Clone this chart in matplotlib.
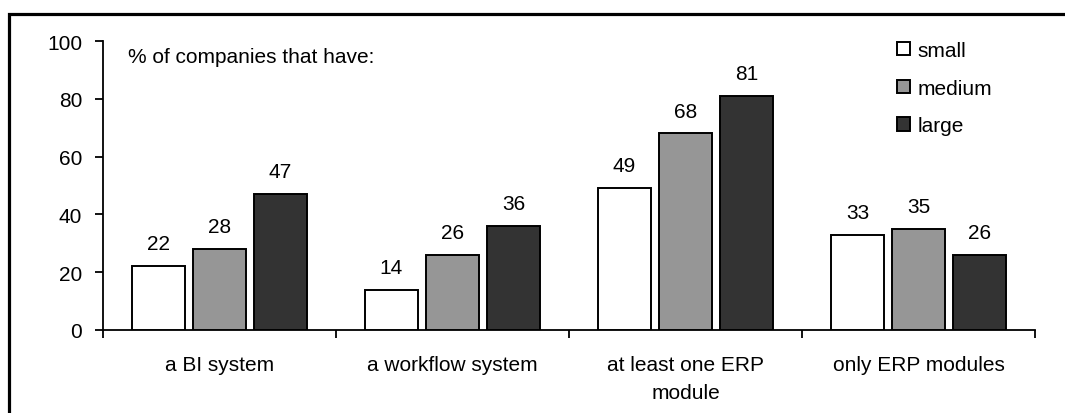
import matplotlib
matplotlib.use("Agg")
import matplotlib.pyplot as plt
from matplotlib.patches import Rectangle
import numpy as np

categories = ["a BI system", "a workflow system", "at least one ERP\nmodule", "only ERP modules"]
series_names = ["small", "medium", "large"]
small = [22, 14, 49, 33]
medium = [28, 26, 68, 35]
large = [47, 36, 81, 26]
y_ticks = [0, 20, 40, 60, 80, 100]
note_text = "% of companies that have:"

colors = ["#ffffff", "#969696", "#333333"]
plt.rcParams['font.family'] = ['Liberation Sans', 'DejaVu Sans']
FS = 15

W, H = 1065, 414
fig = plt.figure(figsize=(W / 100, H / 100), dpi=100)
fig.patch.set_facecolor("white")

# outer frame (partially cut off at right and bottom)
fig.patches.append(Rectangle((9 / W, -0.2), 1.5, (H - 15) / H + 0.2,
                             transform=fig.transFigure, fill=False,
                             edgecolor="black", linewidth=2.3))

ax = fig.add_axes([103 / W, (H - 331) / H, (1035 - 103) / W, (331 - 42) / H])
ax.set_facecolor("none")

x = np.arange(len(categories))
off = 0.262
bw = 0.228
handles = []
for i, (vals, name) in enumerate(zip([small, medium, large], series_names)):
    bars = ax.bar(x + (i - 1) * off, vals, width=bw, color=colors[i],
                  edgecolor="black", linewidth=1.4, label=name, zorder=3)
    handles.append(bars)
    for xi, v in zip(x + (i - 1) * off, vals):
        ax.annotate(str(v), (xi, v), xytext=(0, 12.2), textcoords="offset points",
                    ha="center", va="baseline", fontsize=FS, color="black")

ax.set_xlim(-0.5, len(categories) - 0.5)
ax.set_ylim(0, 100)
ax.set_yticks(y_ticks)
ax.set_yticklabels([str(t) for t in y_ticks], fontsize=FS)
ax.set_xticks(x)
ax.set_xticklabels(categories, fontsize=FS, linespacing=1.6)
ax.set_xticks(np.arange(-0.5, len(categories)), minor=True)
ax.tick_params(axis="x", which="major", length=0, pad=18)
ax.tick_params(axis="x", which="minor", length=6, width=1.3, direction="out")
ax.tick_params(axis="y", which="major", length=6, width=1.3, direction="out", pad=9)
for s in ["top", "right"]:
    ax.spines[s].set_visible(False)
for s in ["left", "bottom"]:
    ax.spines[s].set_linewidth(1.3)

fig.text(128 / W, (H - 63) / H, note_text, fontsize=FS, ha="left", va="baseline")

ax.legend(handles=handles, labels=series_names, loc="upper left",
          bbox_to_anchor=(897 / W, (H - 42) / H), bbox_transform=fig.transFigure,
          frameon=False, borderpad=0, borderaxespad=0, handlelength=0.63,
          handleheight=0.63, handletextpad=0.34, labelspacing=0.9, fontsize=FS)

fig.savefig("out.png", dpi=100)
